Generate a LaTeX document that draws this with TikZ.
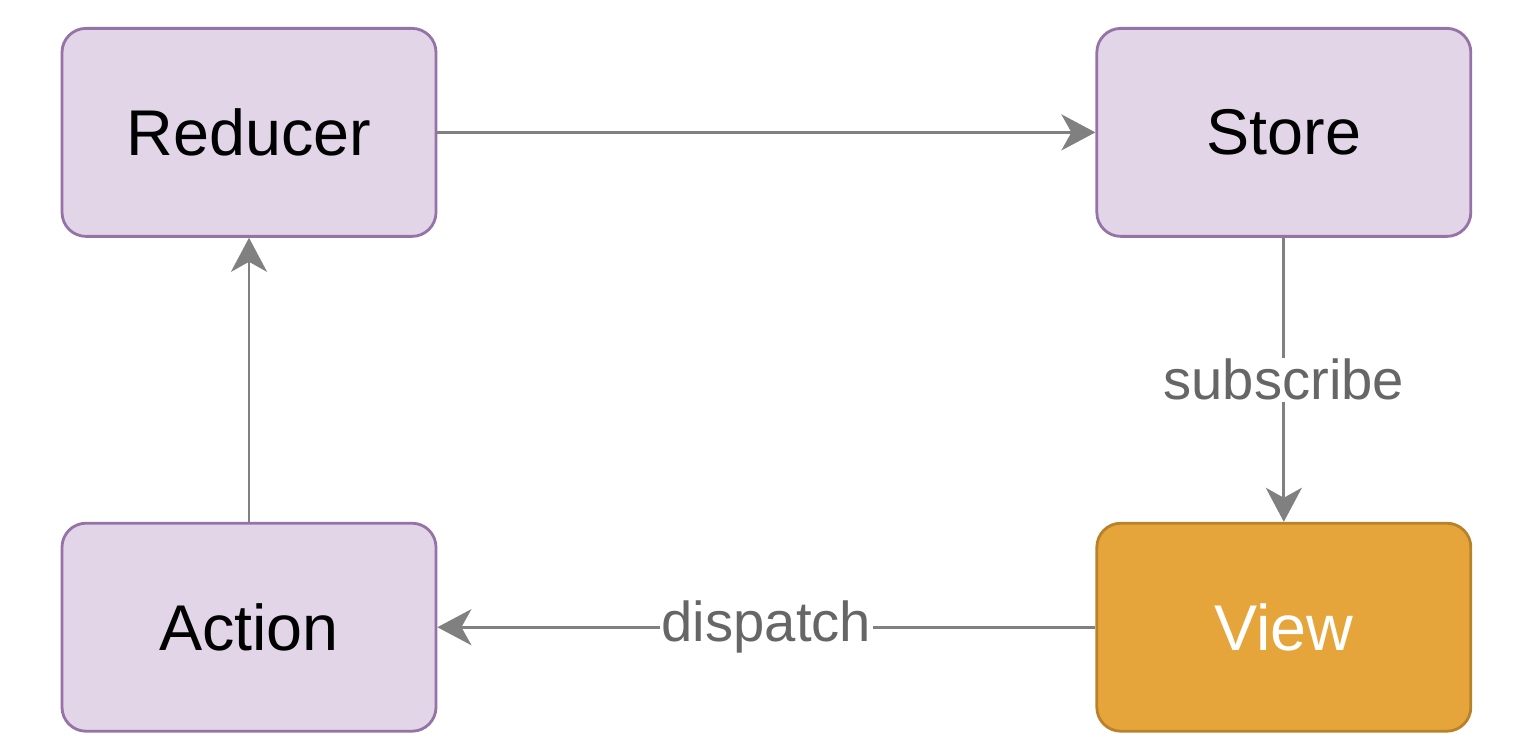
\documentclass[tikz,border=0pt]{standalone}
\usepackage{fontspec}
\setmainfont{Liberation Sans}
\usetikzlibrary{positioning,arrows.meta}

\definecolor{boxfill}{HTML}{E1D5E7}
\definecolor{boxline}{HTML}{9673A6}
\definecolor{viewfill}{HTML}{E6A53B}
\definecolor{viewline}{HTML}{B7822A}
\definecolor{flowgray}{HTML}{808080}
\definecolor{labelgray}{HTML}{666666}

\begin{document}
\begin{tikzpicture}[
    box/.style={draw=boxline, fill=boxfill, line width=2pt, rounded corners=0.6cm,
      minimum width=9.35cm, minimum height=5.2cm, inner sep=0pt,
      font=\fontsize{46}{50}\selectfont},
    viewbox/.style={box, draw=viewline, fill=viewfill, text=white},
    flow/.style={draw=flowgray, line width=2pt,
      -{Stealth[length=0.85cm, width=0.9cm, inset=0.25cm]}},
    edgelabel/.style={fill=white, text=labelgray, inner sep=1pt,
      font=\fontsize{40}{44}\selectfont}
    ]
    \useasboundingbox (0,0) rectangle (38.4,18.85);
    \node[box] (reducer) at (6.225,15.54) {Reducer};
    \node[box, right=16.45cm of reducer] (store) {Store};
    \node[box, below=7.1cm of reducer] (action) {Action};
    \node[viewbox, below=7.1cm of store] (view) {View};

    \draw[flow] (reducer) -- (store);
    \draw[flow] (store) -- node[edgelabel] {subscribe} (view);
    \draw[flow] (view) -- node[edgelabel] {dispatch} (action);
    \draw[flow] (action) -- (reducer);
  \end{tikzpicture}
\end{document}
